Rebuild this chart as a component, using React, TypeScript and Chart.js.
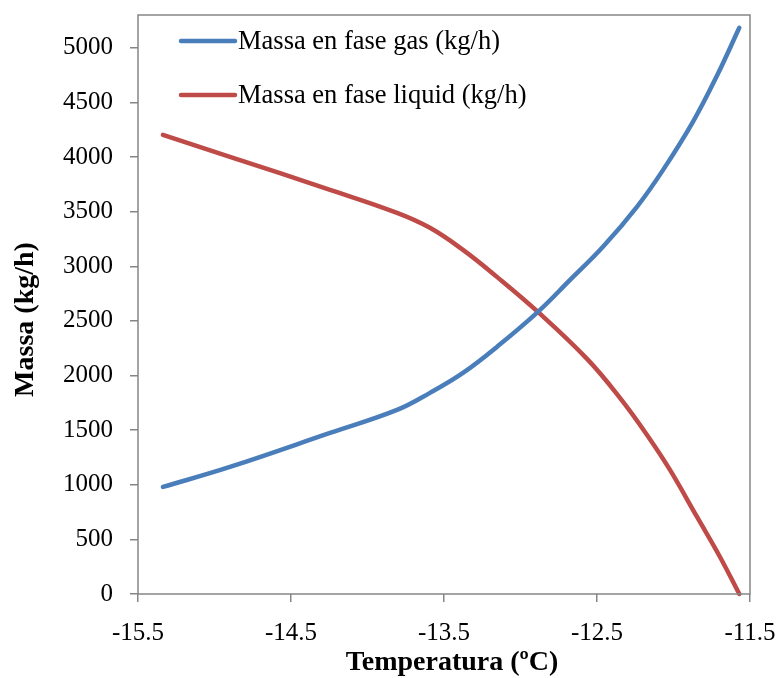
import React, { useEffect, useRef } from "react";
import { Chart, registerables } from "chart.js";

Chart.register(...registerables);

const gasTemperature = [-15.337, -14.899, -14.245, -13.807, -13.592, -13.376, -13.154, -12.886, -12.676, -12.461, -12.239, -12.069, -11.873, -11.716, -11.57];
const gasMass = [980, 1163, 1474, 1685, 1841, 2024, 2262, 2582, 2875, 3178, 3544, 3880, 4322, 4744, 5183];
const liquidTemperature = [-15.337, -14.899, -14.245, -13.807, -13.592, -13.376, -13.154, -12.886, -12.565, -12.35, -12.173, -12.023, -11.846, -11.696, -11.57];
const liquidMass = [4203, 4002, 3700, 3489, 3352, 3150, 2903, 2582, 2152, 1795, 1456, 1136, 705, 339, 0];
const xTicks = [-15.5, -14.5, -13.5, -12.5, -11.5];
const yTicks = [0, 500, 1000, 1500, 2000, 2500, 3000, 3500, 4000, 4500, 5000];
const seriesNames = ["Massa en fase gas (kg/h)", "Massa en fase liquid (kg/h)"];
const seriesColors = ["#4A7EBB", "#BE4B48"];
const xTitle = "Temperatura (ºC)";
const yTitle = "Massa (kg/h)";

const SERIF = "'Liberation Serif', 'Times New Roman', serif";

const zeroPadding = (axis: any) => {
  axis.paddingTop = 0;
  axis.paddingBottom = 0;
  axis.paddingLeft = 0;
  axis.paddingRight = 0;
};

const decorPlugin = {
  id: "decor",
  afterDraw(chart: any) {
    const { ctx, chartArea } = chart;
    const { left, top, right, bottom } = chartArea;
    ctx.save();
    // frame
    ctx.strokeStyle = "#868686";
    ctx.lineWidth = 1.5;
    ctx.strokeRect(left, top, right - left, bottom - top);
    // legend
    ctx.font = `26.5px ${SERIF}`;
    ctx.textBaseline = "middle";
    ctx.textAlign = "left";
    seriesNames.forEach((name, i) => {
      const y = top + 26 + i * 54;
      ctx.strokeStyle = seriesColors[i];
      ctx.lineWidth = 4.5;
      ctx.lineCap = "round";
      ctx.beginPath();
      ctx.moveTo(left + 43, y);
      ctx.lineTo(left + 97, y);
      ctx.stroke();
      ctx.fillStyle = "#000";
      ctx.fillText(name, left + 100, y + 1);
    });
    // axis titles
    ctx.font = `bold 28px ${SERIF}`;
    ctx.textAlign = "center";
    ctx.fillStyle = "#000";
    ctx.fillText(xTitle, (left + right) / 2 + 8, 663);
    ctx.translate(26, (top + bottom) / 2 + 15);
    ctx.rotate(-Math.PI / 2);
    ctx.fillText(yTitle, 0, 0);
    ctx.restore();
  },
};

export default function App() {
  const canvasRef = useRef<HTMLCanvasElement | null>(null);

  useEffect(() => {
    const canvas = canvasRef.current;
    if (!canvas) return;
    const chart = new Chart(canvas, {
      type: "line",
      data: {
        datasets: [
          {
            label: seriesNames[0],
            data: gasTemperature.map((t, i) => ({ x: t, y: gasMass[i] })),
            borderColor: seriesColors[0],
            backgroundColor: seriesColors[0],
            borderWidth: 4.5,
            pointRadius: 0,
            tension: 0.4,
            borderCapStyle: "round",
            clip: false,
          },
          {
            label: seriesNames[1],
            data: liquidTemperature.map((t, i) => ({ x: t, y: liquidMass[i] })),
            borderColor: seriesColors[1],
            backgroundColor: seriesColors[1],
            borderWidth: 4.5,
            pointRadius: 0,
            tension: 0.4,
            borderCapStyle: "round",
            clip: false,
          },
        ],
      },
      options: {
        responsive: false,
        animation: false,
        layout: { padding: { top: 15, right: 30, left: 0, bottom: 0 } },
        plugins: {
          legend: { display: false },
          tooltip: { enabled: false },
          title: { display: false },
        },
        scales: {
          x: {
            type: "linear",
            min: -15.5,
            max: -11.5,
            afterBuildTicks: (axis: any) => {
              axis.ticks = xTicks.map((v) => ({ value: v }));
            },
            afterFit: (axis: any) => {
              axis.height = 84;
              zeroPadding(axis);
            },
            border: { display: false },
            grid: {
              drawOnChartArea: false,
              drawTicks: true,
              tickLength: 8,
              color: "#868686",
              lineWidth: 1.5,
            },
            ticks: {
              autoSkip: false,
              maxRotation: 0,
              padding: 16,
              color: "#000",
              font: { family: SERIF, size: 25 },
              callback: (v: any) => Number(v).toFixed(1),
            },
          },
          y: {
            type: "linear",
            min: 0,
            max: 5300,
            afterBuildTicks: (axis: any) => {
              axis.ticks = yTicks.map((v) => ({ value: v }));
            },
            afterFit: (axis: any) => {
              axis.width = 138;
              zeroPadding(axis);
            },
            border: { display: false },
            grid: {
              drawOnChartArea: false,
              drawTicks: true,
              tickLength: 8,
              color: "#868686",
              lineWidth: 1.5,
            },
            ticks: {
              autoSkip: false,
              padding: 17,
              color: "#000",
              font: { family: SERIF, size: 25 },
              callback: (v: any) => String(v),
            },
          },
        },
      },
      plugins: [decorPlugin],
    });
    return () => chart.destroy();
  }, []);

  return (
    <div style={{ position: "absolute", left: 0, top: 0, width: 780, height: 678, background: "#fff" }}>
      <canvas ref={canvasRef} width={780} height={678} style={{ display: "block" }} />
    </div>
  );
}
